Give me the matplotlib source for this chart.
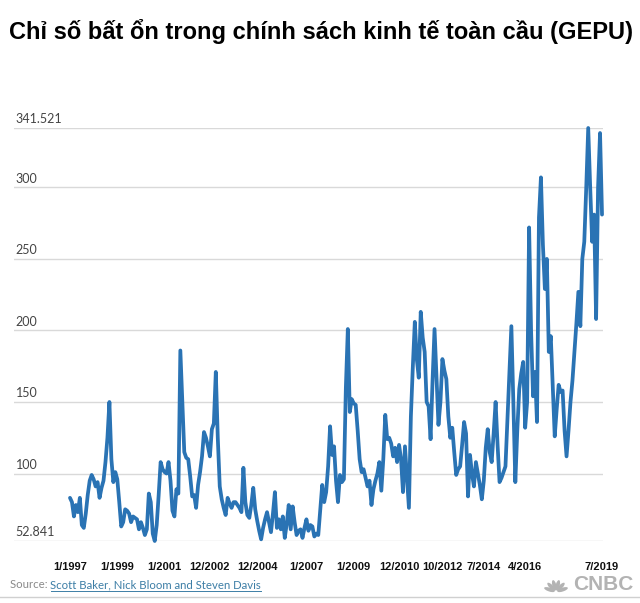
import math
import matplotlib
matplotlib.use("Agg")
import matplotlib.pyplot as plt
from matplotlib.lines import Line2D
from matplotlib.patches import Ellipse
from matplotlib import transforms

# ---------------- data (monthly GEPU, 1/1997 .. 7/2019) ----------------
gepu_1997 = [83, 80, 70, 78, 73, 83, 64, 62, 72, 85, 95, 99]
gepu_1998 = [96, 91, 94, 83, 90, 95, 108, 125, 150, 110, 94, 101]
gepu_1999 = [96, 80, 63, 66, 75, 74, 72, 66, 70, 69, 68, 61]
gepu_2000 = [66, 62, 57, 61, 86, 80, 58, 52.841, 64, 85, 108, 103]
gepu_2001 = [101, 100, 108, 95, 74, 70, 89, 86, 186, 150, 115, 111]
gepu_2002 = [110, 98, 84, 85, 76, 92, 101, 112, 129, 125, 119, 112]
gepu_2003 = [131, 135, 171, 125, 91, 82, 76, 71, 83, 79, 76, 80]
gepu_2004 = [80, 78, 76, 73, 104, 80, 71, 69, 78, 90, 75, 67]
gepu_2005 = [60, 54, 62, 68, 73, 66, 59, 72, 87, 62, 68, 61]
gepu_2006 = [70, 55, 65, 78, 61, 77, 66, 57, 60, 61, 55, 62]
gepu_2007 = [68, 60, 64, 63, 56, 58, 57, 75, 92, 80, 87, 105]
gepu_2008 = [133, 113, 119, 95, 80, 99, 94, 96, 160, 201, 143, 152]
gepu_2009 = [149, 148, 130, 110, 101, 103, 97, 91, 95, 78, 89, 95]
gepu_2010 = [100, 108, 88, 110, 141, 124, 125, 121, 112, 118, 108, 120]
gepu_2011 = [110, 87, 119, 98, 76, 140, 175, 206, 180, 167, 213, 195]
gepu_2012 = [185, 150, 147, 124, 165, 201, 168, 134, 150, 180, 172, 166]
gepu_2013 = [140, 125, 132, 115, 99, 103, 105, 120, 136, 128, 84, 113]
gepu_2014 = [100, 91, 108, 100, 92, 82, 95, 118, 131, 115, 108, 128]
gepu_2015 = [150, 120, 94, 97, 101, 105, 138, 170, 203, 150, 94, 130]
gepu_2016 = [159, 170, 178, 132, 150, 272, 200, 154, 171, 136, 279, 307]
gepu_2017 = [260, 229, 250, 185, 196, 160, 126, 145, 162, 157, 158, 130]
gepu_2018 = [112, 130, 150, 165, 185, 205, 227, 203, 250, 262, 300, 341.521]
gepu_2019 = [300, 262, 281, 208, 300, 338, 281]

values = (gepu_1997 + gepu_1998 + gepu_1999 + gepu_2000 + gepu_2001 + gepu_2002
          + gepu_2003 + gepu_2004 + gepu_2005 + gepu_2006 + gepu_2007 + gepu_2008
          + gepu_2009 + gepu_2010 + gepu_2011 + gepu_2012 + gepu_2013 + gepu_2014
          + gepu_2015 + gepu_2016 + gepu_2017 + gepu_2018 + gepu_2019)
months = list(range(len(values)))

x_tick_labels = ["1/1997", "1/1999", "1/2001", "12/2002", "12/2004", "1/2007",
                 "1/2009", "12/2010", "10/2012", "7/2014", "4/2016", "7/2019"]
x_tick_months = [0, 24, 48, 71, 95, 120, 144, 167, 189, 210, 231, 270]

y_ticks = [52.841, 100, 150, 200, 250, 300, 341.521]
y_tick_labels = ["52.841", "100", "150", "200", "250", "300", "341.521"]

title = "Chỉ số bất ổn trong chính sách kinh tế toàn cầu (GEPU)"
source_prefix = "Source: "
source_name = "Scott Baker, Nick Bloom and Steven Davis"

# ---------------- figure ----------------
W, H = 640, 603
fig = plt.figure(figsize=(W / 100, H / 100), dpi=100)
fig.patch.set_facecolor("white")

def fx(px):
    return px / W

def fy(py):
    return 1 - py / H

ax = fig.add_axes([fx(14), fy(541), fx(603) - fx(14), fy(128) - fy(541)])
ax.set_facecolor("white")

line_color = "#2a73b4"
ax.plot(months, values, color=line_color, lw=2.7, solid_joinstyle="round",
        solid_capstyle="round", clip_on=False, zorder=3)

ax.set_xlim(-28.42, 270.5)
ax.set_ylim(y_ticks[0], y_ticks[-1])

for s in ax.spines.values():
    s.set_visible(False)

ax.set_yticks(y_ticks)
ax.set_yticklabels([])
ax.tick_params(axis="y", length=0)
ax.grid(axis="y", color="#d9d9d9", lw=1.0, zorder=0)
ax.grid(axis="x", visible=False)

ax.set_xticks(x_tick_months)
ax.set_xticklabels(x_tick_labels, fontweight="bold", fontsize=8,
                   family=["Liberation Sans", "DejaVu Sans"], color="#111111")
ax.tick_params(axis="x", length=0, pad=15)

trans = transforms.blended_transform_factory(ax.transAxes, ax.transData)
for v, lab in zip(y_ticks, y_tick_labels):
    t = ax.text(0.003, v, lab, transform=trans, ha="left", va="bottom",
                fontsize=9, color="#444444", family=["Lato", "DejaVu Sans"])
    t.set_transform(trans + transforms.ScaledTranslation(0, 2 / 72, fig.dpi_scale_trans))

# title
fig.text(fx(9), fy(32), title, ha="left", va="center", fontsize=17.0,
         fontweight="bold", family=["Liberation Sans", "DejaVu Sans"], color="black")

# source
src1 = fig.text(fx(10), fy(585), source_prefix, ha="left", va="center", fontsize=8.2,
                color="#8a8a8a", family=["Lato", "DejaVu Sans"])
fig.canvas.draw()
r = fig.canvas.get_renderer()
bb = src1.get_window_extent(r)
src2 = fig.text(bb.x1 / W, fy(585), source_name, ha="left", va="center", fontsize=8.2,
                color="#3d7ea6", family=["Lato", "DejaVu Sans"])
fig.canvas.draw()
bb2 = src2.get_window_extent(r)
fig.add_artist(Line2D([bb2.x0 / W, bb2.x1 / W], [(bb2.y0 - 0.5) / H] * 2,
                      color="#3d7ea6", lw=0.7))

# CNBC mark (peacock + wordmark)
logo_grey = "#b3b3b3"
fig.text(fx(634), fy(585), "CNBC", ha="right", va="center", fontsize=15,
         fontweight="heavy", color=logo_grey, family=["Liberation Sans", "DejaVu Sans"])
cx, cy = 556, 592
for ang in [-70, -42, -14, 14, 42, 70]:
    a = math.radians(ang)
    ex = cx + 7 * math.sin(a)
    ey = cy - 7 * math.cos(a)
    e = Ellipse((fx(ex), fy(ey)), width=4.0 / W, height=10.5 / H, angle=-ang,
                transform=fig.transFigure, facecolor=logo_grey, edgecolor="none")
    fig.add_artist(e)

# bottom rule
fig.add_artist(Line2D([0, 1], [fy(597)] * 2, color="#d0d0d0", lw=1.0))

fig.savefig("out.png", dpi=100, facecolor="white")
